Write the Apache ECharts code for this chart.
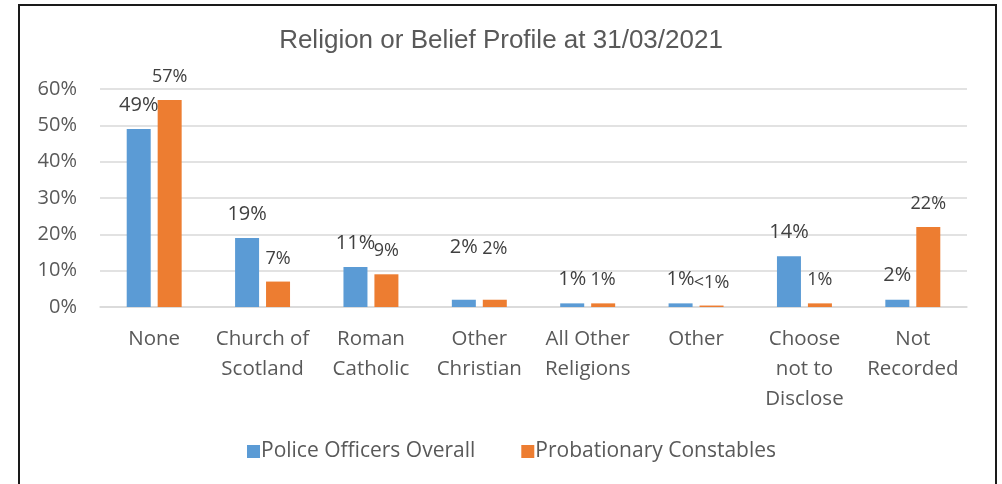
<!DOCTYPE html>
<html>
<head>
<meta charset="utf-8">
<style>
  html, body { margin: 0; padding: 0; background: #ffffff; }
  #chart { width: 1002px; height: 484px; }
</style>
<script src="https://cdn.jsdelivr.net/npm/echarts@6/dist/echarts.min.js"></script>
</head>
<body>
<div id="chart"></div>
<script>
// Religion or belief profile, share of each group (%)
const categories = [
  'None', 'Church of\nScotland', 'Roman\nCatholic', 'Other\nChristian',
  'All Other\nReligions', 'Other', 'Choose\nnot to\nDisclose', 'Not\nRecorded'
];
const policeOfficersOverall = [49, 19, 11, 2, 1, 1, 14, 2];
const probationaryConstables = [57, 7, 9, 2, 1, 0.4, 1, 22];
const yTicks = [0, 10, 20, 30, 40, 50, 60];

// Labels for the "Other Christian" pair sit higher than the rest
const raisedLabelIndex = 3;

const fmtPct = function (p) {
  return p.value < 1 ? '<1%' : p.value + '%';
};

function buildData(values) {
  return values.map(function (v, i) {
    if (i === raisedLabelIndex) {
      return { value: v, label: { offset: [0, -28] } };
    }
    return v;
  });
}

const chart = echarts.init(document.getElementById('chart'));

chart.setOption({
  animation: false,
  backgroundColor: '#ffffff',
  title: {
    text: 'Religion or Belief Profile at 31/03/2021',
    left: 'center',
    top: 23,
    padding: [5, 0, 5, 10],
    textStyle: {
      fontFamily: 'Liberation Sans',
      fontSize: 26,
      fontWeight: 'normal',
      color: '#595959'
    }
  },
  graphic: [{
    type: 'rect',
    shape: { x: 19, y: 5, width: 977, height: 500 },
    style: { fill: 'none', stroke: '#1a1a1a', lineWidth: 2 },
    silent: true,
    z: 100
  }],
  legend: {
    bottom: 17,
    left: 242,
    itemWidth: 13,
    itemHeight: 13,
    itemGap: 46,
    icon: 'rect',
    textStyle: {
      fontFamily: 'Open Sans',
      fontSize: 21,
      color: '#595959',
      padding: [0, 0, 0, -4]
    },
    data: ['Police Officers Overall', 'Probationary Constables']
  },
  grid: {
    left: 100,
    right: 35,
    top: 89,
    bottom: 177,
    containLabel: false
  },
  xAxis: {
    type: 'category',
    data: categories,
    axisLine: { show: true, lineStyle: { color: '#d9d9d9', width: 1.5 } },
    axisTick: { show: false },
    axisLabel: {
      interval: 0,
      margin: 17,
      fontFamily: 'Open Sans',
      fontSize: 20.5,
      lineHeight: 30,
      color: '#595959',
      align: 'center'
    }
  },
  yAxis: {
    type: 'value',
    min: yTicks[0],
    max: yTicks[yTicks.length - 1],
    interval: 10,
    axisLine: { show: false },
    axisTick: { show: false },
    splitLine: { lineStyle: { color: '#d9d9d9', width: 1.5 } },
    axisLabel: {
      margin: 23,
      fontFamily: 'Open Sans',
      fontSize: 20,
      color: '#595959',
      formatter: '{value}%'
    }
  },
  series: [
    {
      name: 'Police Officers Overall',
      type: 'bar',
      data: buildData(policeOfficersOverall),
      barWidth: 24,
      barGap: '29%',
      itemStyle: { color: '#5B9BD5' },
      label: {
        show: true,
        position: 'top',
        distance: 14,
        fontFamily: 'Open Sans',
        fontSize: 20,
        color: '#404040',
        formatter: fmtPct
      }
    },
    {
      name: 'Probationary Constables',
      type: 'bar',
      data: buildData(probationaryConstables),
      barWidth: 24,
      itemStyle: { color: '#ED7D31' },
      label: {
        show: true,
        position: 'top',
        distance: 14,
        fontFamily: 'Open Sans',
        fontSize: 18,
        color: '#404040',
        formatter: fmtPct
      }
    }
  ]
});
</script>
</body>
</html>
